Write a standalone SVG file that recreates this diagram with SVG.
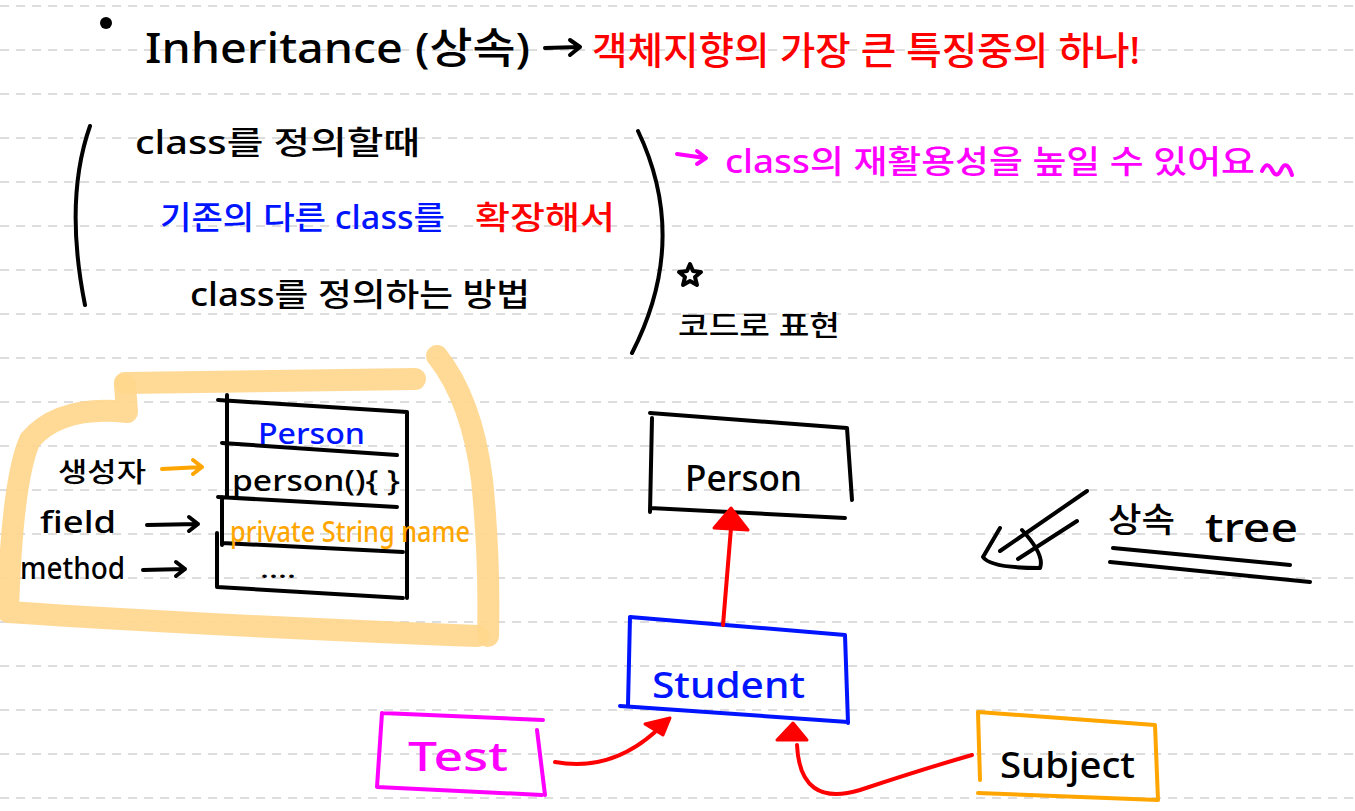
<svg xmlns="http://www.w3.org/2000/svg" width="1355" height="811" viewBox="0 0 1355 811">
<style>
.grid{stroke:#d2d2d2;stroke-width:1.5;stroke-dasharray:9 7;fill:none}
.ink{fill:none;stroke-linecap:round;stroke-linejoin:round}
.k{stroke:#000;stroke-width:4}
.bl{stroke:#0014ff;stroke-width:4}
.mg{stroke:#ff00ff;stroke-width:4}
.or{stroke:#ffa500;stroke-width:4}
.rd{stroke:#ff0000;stroke-width:4}
.hl{fill:none;stroke:#ffd68c;stroke-width:22;stroke-linecap:round;stroke-linejoin:round;opacity:.9}
text{font-family:"Noto Sans","Noto Sans CJK KR",sans-serif;font-weight:500}
.tk{fill:#000}.tb{fill:#0014ff}.tr{fill:#ff0000}.tm{fill:#ff00ff}.to{fill:#ffa500}
</style>
<rect width="1355" height="811" fill="#fff"/>
<g id="grid">
<path class="grid" d="M0,6H1355M0,50H1355M0,94H1355M0,138H1355M0,182H1355M0,226H1355M0,270H1355M0,314H1355M0,358H1355M0,402H1355M0,446H1355M0,490H1355M0,534H1355M0,578H1355M0,622H1355M0,666H1355M0,710H1355M0,754H1355M0,798H1355"/>
</g>

<g id="title">
<circle cx="106" cy="23" r="6" fill="#000"/>
<text class="tk" x="145" y="63" font-size="42" textLength="385" lengthAdjust="spacingAndGlyphs">Inheritance (상속)</text>
<path class="ink k" d="M545,48 L580,47 M570,40 L580,47 L570,55"/>
<text class="tr" x="592" y="64" font-size="38" textLength="548" lengthAdjust="spacingAndGlyphs">객체지향의 가장 큰 특징중의 하나!</text>
</g>

<g id="definition">
<path class="ink k" d="M90,126 Q64,200 85,305"/>
<path class="ink k" d="M638,131 Q690,240 632,353"/>
<text class="tk" x="135" y="154" font-size="32" textLength="285" lengthAdjust="spacingAndGlyphs">class를 정의할때</text>
<text class="tb" x="160" y="229" font-size="32" textLength="285" lengthAdjust="spacingAndGlyphs">기존의 다른 class를</text>
<text class="tr" x="475" y="229" font-size="32" textLength="140" lengthAdjust="spacingAndGlyphs">확장해서</text>
<text class="tk" x="190" y="306" font-size="32" textLength="340" lengthAdjust="spacingAndGlyphs">class를 정의하는 방법</text>
</g>

<g id="reuse-note">
<path class="ink mg" d="M677,154 L705,158 M697,151 L706,158 L697,164"/>
<text class="tm" x="725" y="173" font-size="32" textLength="530" lengthAdjust="spacingAndGlyphs">class의 재활용성을 높일 수 있어요</text>
<path class="ink mg" d="M1262,171 Q1267,160 1272,170 Q1277,180 1282,168 Q1287,160 1292,175"/>
</g>

<g id="code-note">
<path fill="none" stroke="#000" stroke-width="4" stroke-linejoin="round" d="M690,264 L693,271 L701,272 L695,277 L697,285 L690,281 L683,285 L685,277 L679,272 L687,271 Z"/>
<text class="tk" x="678" y="336" font-size="28" textLength="162" lengthAdjust="spacingAndGlyphs">코드로 표현</text>
</g>

<g id="highlight">
<path class="hl" d="M125,383 L415,379"/>
<path class="hl" d="M125,385 L127,412 Q60,405 30,440 Q12,480 8,612 Q200,625 478,636"/>
<path class="hl" d="M437,356 Q472,400 482,480 Q490,560 488,636"/>
</g>

<g id="class-box">
<path class="ink k" d="M218,400 L407,412 L407,598 M227,395 L227,497 M222,443 L397,455 M218,497 L397,507 M222,497 L222,545 M222,543 L403,552 M217,533 L217,587 L403,598"/>
<text class="tb" x="258" y="444" font-size="28" textLength="107" lengthAdjust="spacingAndGlyphs">Person</text>
<text class="tk" x="232" y="491" font-size="28" textLength="168" lengthAdjust="spacingAndGlyphs">person(){ }</text>
<text class="to" x="230" y="542" font-size="28" textLength="240" lengthAdjust="spacingAndGlyphs">private String name</text>
<text class="tk" x="260" y="578" font-size="24" textLength="36" lengthAdjust="spacingAndGlyphs">....</text>
</g>

<g id="class-labels">
<text class="tk" x="58" y="482" font-size="27" textLength="88" lengthAdjust="spacingAndGlyphs">생성자</text>
<path class="ink or" d="M162,469 L202,467 M193,460 L202,467 L193,474"/>
<text class="tk" x="40" y="533" font-size="30" textLength="76" lengthAdjust="spacingAndGlyphs">field</text>
<path class="ink k" d="M147,525 L198,524 M189,517 L198,524 L189,531"/>
<text class="tk" x="20" y="579" font-size="30" textLength="105" lengthAdjust="spacingAndGlyphs">method</text>
<path class="ink k" d="M143,570 L185,569 M176,562 L185,569 L176,576"/>
</g>

<g id="node-person">
<path class="ink k" d="M650,413 L847,428 L852,500 M652,418 L650,512 M650,508 L845,518"/>
<text class="tk" x="685" y="491" font-size="36" textLength="117" lengthAdjust="spacingAndGlyphs">Person</text>
</g>

<g id="node-student">
<path class="ink bl" d="M630,617 L845,635 L848,723 M630,617 L628,705 M620,706 L848,722"/>
<text class="tb" x="652" y="698" font-size="36" textLength="153" lengthAdjust="spacingAndGlyphs">Student</text>
</g>

<g id="node-test">
<path class="ink mg" d="M382,713 L543,720 M537,730 L545,795 M382,713 L377,787 L542,795"/>
<text class="tm" x="408" y="771" font-size="40" textLength="100" lengthAdjust="spacingAndGlyphs">Test</text>
</g>

<g id="node-subject">
<path class="ink or" d="M978,712 L1155,725 L1158,800 L978,793 M978,712 L980,780"/>
<text class="tk" x="1000" y="778" font-size="36" textLength="135" lengthAdjust="spacingAndGlyphs">Subject</text>
</g>

<g id="connectors">
<path class="ink rd" d="M723,625 L731,528"/>
<path fill="#ff0000" stroke="#ff0000" stroke-width="3" stroke-linejoin="round" d="M731,508 L748,530 L714,528 Z"/>
<path class="ink rd" d="M555,762 Q610,772 655,732"/>
<path fill="#ff0000" stroke="#ff0000" stroke-width="3" stroke-linejoin="round" d="M670,718 L663,735 L645,724 Z"/>
<path class="ink rd" d="M972,755 Q920,770 860,790 Q800,808 797,745"/>
<path fill="#ff0000" stroke="#ff0000" stroke-width="3" stroke-linejoin="round" d="M793,723 L807,740 L777,740 Z"/>
</g>

<g id="tree-note">
<path class="ink k" d="M1087,491 L1000,551 M1077,521 L1018,559 M1000,528 L983,557 Q990,568 1040,568 Q1045,555 1022,530"/>
<text class="tk" x="1108" y="532" font-size="34" textLength="67" lengthAdjust="spacingAndGlyphs">상속</text>
<text class="tk" x="1205" y="542" font-size="40" textLength="93" lengthAdjust="spacingAndGlyphs">tree</text>
<path class="ink k" d="M1113,548 L1290,565 M1110,562 L1310,582"/>
</g>
</svg>
